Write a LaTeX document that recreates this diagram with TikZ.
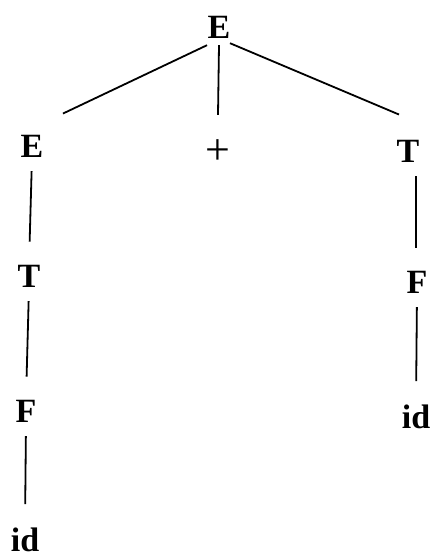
\documentclass[tikz,border=0pt]{standalone}
\usepackage{fontspec}
\setmainfont{Liberation Serif}
\tikzset{
  sym/.style={font=\fontsize{34}{38}\selectfont\bfseries, inner sep=0pt, anchor=base},
  branch/.style={line width=1.8pt},
  stem/.style={branch, shorten <=14pt, shorten >=23pt}
}
\begin{document}
\begin{tikzpicture}[x=1pt,y=-1pt]
\useasboundingbox (0,0) rectangle (430,557);
% E -> E + T
\node[sym] (E0) at (219,38) {E};
\node[sym] (E1) at (32,157) {E};
\node[sym,anchor=center,font=\fontsize{44}{48}\selectfont] (plus) at (218,152.5) {+};
\node[sym] (T2) at (408,162) {T};
% left branch
\node[sym] (T1) at (29,287) {T};
\node[sym] (F1) at (26,422) {F};
\node[sym] (id1) at (25,551) {id};
% right branch
\node[sym] (F2) at (417,293) {F};
\node[sym] (id2) at (416,428) {id};

\draw[branch] ([shift={(-12pt,-7pt)}]E0.south) -- ([shift={(31pt,21pt)}]E1.north);
\draw[branch] ([yshift=-7pt]E0.south) -- ([yshift=25pt]plus.north);
\draw[branch] ([shift={(11pt,-5pt)}]E0.south) -- ([shift={(-9pt,25pt)}]T2.north);
\foreach \a/\b in {E1/T1,T1/F1,F1/id1,F2/id2}
{
    \draw[stem] (\a.south) -- (\b.north);
}
\draw[stem] ([xshift=8pt]T2.south) -- ([xshift=-1pt]F2.north);
\end{tikzpicture}
\end{document}
